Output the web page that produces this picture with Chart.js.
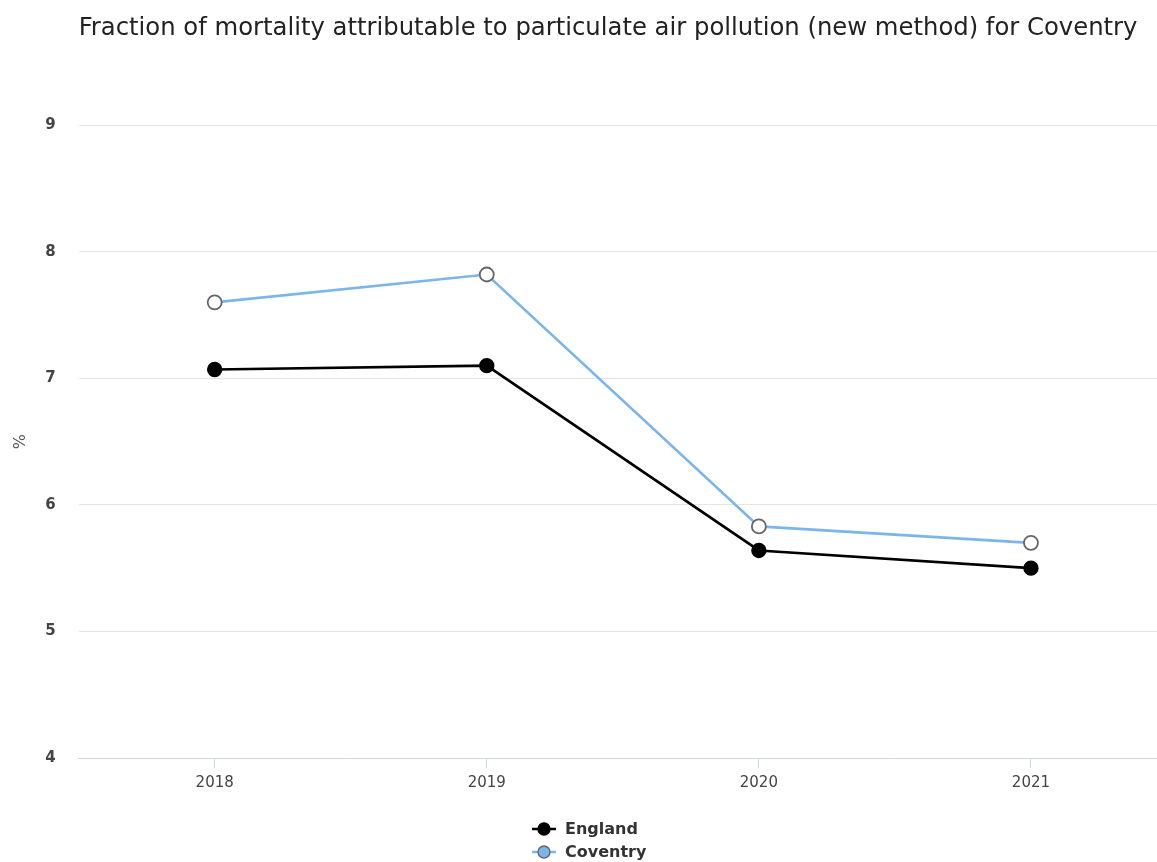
<!DOCTYPE html>
<html>
<head>
<meta charset="utf-8">
<script src="https://cdn.jsdelivr.net/npm/chart.js@4"></script>
<style>
  html, body { margin: 0; padding: 0; background: #fff; overflow: hidden; }
  #wrap { width: 1170px; height: 862px; position: relative; }
</style>
</head>
<body>
<div id="wrap"><canvas id="c"></canvas></div>
<script>
// Fraction of mortality attributable to particulate air pollution (%)
const years = ['2018', '2019', '2020', '2021'];
const englandValues = [7.07, 7.10, 5.64, 5.50];
const coventryValues = [7.60, 7.82, 5.83, 5.70];
const yMin = 4;
const yMax = 9;
const yStep = 1;

const FONT = "'DejaVu Sans', 'Verdana', sans-serif";

// Stacked legend drawn under the x axis, one series per row
const stackedLegend = {
  id: 'stackedLegend',
  afterDraw(chart) {
    const ctx = chart.ctx;
    ctx.save();
    ctx.font = 'bold 16px ' + FONT;
    ctx.textBaseline = 'middle';
    ctx.textAlign = 'left';
    const firstW = ctx.measureText(chart.data.datasets[0].label).width;
    const x0 = Math.round(chart.width / 2 - (33 + firstW) / 2);
    chart.data.datasets.forEach((ds, i) => {
      const y = chart.height - 33 + i * 23;
      ctx.strokeStyle = ds.borderColor;
      ctx.lineWidth = 2.5;
      ctx.beginPath();
      ctx.moveTo(x0, y);
      ctx.lineTo(x0 + 24, y);
      ctx.stroke();
      ctx.fillStyle = ds.legendFill;
      ctx.strokeStyle = ds.legendStroke;
      ctx.lineWidth = 1.4;
      ctx.beginPath();
      ctx.arc(x0 + 12, y, 6, 0, Math.PI * 2);
      ctx.fill();
      ctx.stroke();
      ctx.fillStyle = '#333333';
      ctx.fillText(ds.label, x0 + 33, y + 1);
    });
    ctx.restore();
  }
};

new Chart(document.getElementById('c'), {
  type: 'line',
  data: {
    labels: years,
    datasets: [
      {
        label: 'England',
        data: englandValues,
        borderColor: '#000000',
        backgroundColor: '#000000',
        borderWidth: 2.6,
        pointRadius: 7,
        pointHoverRadius: 7,
        pointBackgroundColor: '#000000',
        pointBorderColor: '#000000',
        pointBorderWidth: 1.4,
        tension: 0,
        legendFill: '#000000',
        legendStroke: '#000000'
      },
      {
        label: 'Coventry',
        data: coventryValues,
        borderColor: '#7cb5ec',
        backgroundColor: '#7cb5ec',
        borderWidth: 2.6,
        pointRadius: 7,
        pointHoverRadius: 7,
        pointBackgroundColor: '#ffffff',
        pointBorderColor: '#666666',
        pointBorderWidth: 1.8,
        tension: 0,
        legendFill: '#7cb5ec',
        legendStroke: '#666666'
      }
    ]
  },
  options: {
    responsive: true,
    maintainAspectRatio: false,
    animation: false,
    layout: { autoPadding: false, padding: { left: 11, right: 3, top: 0, bottom: 64 } },
    plugins: {
      legend: { display: false },
      tooltip: { enabled: false },
      title: {
        display: true,
        fullSize: false,
        align: 'start',
        text: 'Fraction of mortality attributable to particulate air pollution (new method) for Coventry',
        color: '#222222',
        font: { family: FONT, size: 24.3, weight: 'normal' },
        padding: { top: 14, bottom: 82 }
      }
    },
    scales: {
      x: {
        offset: true,
        grid: {
          offset: false,
          drawOnChartArea: false,
          drawTicks: true,
          tickLength: 10,
          color: '#ccd6eb'
        },
        border: { display: true, color: '#ccd6eb', width: 1 },
        ticks: {
          color: '#444444',
          padding: 6,
          font: { family: FONT, size: 15 }
        }
      },
      y: {
        min: yMin,
        max: yMax,
        grid: { color: '#e6e6e6', drawTicks: false },
        border: { display: false },
        ticks: {
          stepSize: yStep,
          color: '#444444',
          padding: 23,
          font: { family: FONT, size: 15, weight: 'bold' }
        },
        title: {
          display: true,
          text: '%',
          color: '#555555',
          padding: { top: 0, bottom: -8 },
          font: { family: FONT, size: 16 }
        }
      }
    }
  },
  plugins: [stackedLegend]
});
</script>
</body>
</html>
